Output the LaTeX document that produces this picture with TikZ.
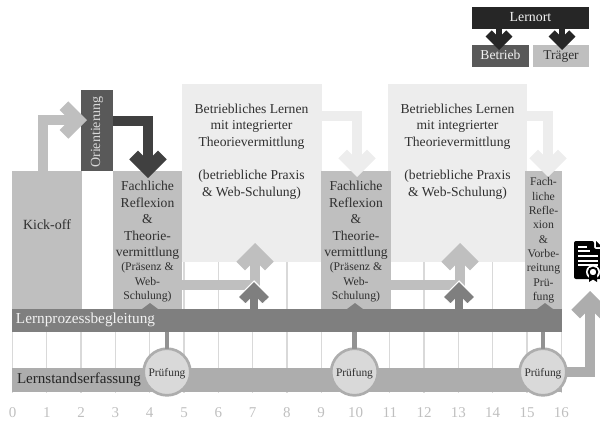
\documentclass[tikz,border=0pt]{standalone}
\usepackage{fontspec}
\setmainfont{Liberation Serif}
\newcommand{\fsz}[2]{\fontsize{#1pt}{#2pt}\selectfont}
\newcommand{\boxn}[6]{%
  \pgfmathsetmacro{\bw}{(#4-#2)*.75}\pgfmathsetmacro{\bh}{(#5-#3)*.75}%
  \pgfmathsetmacro{\bx}{(#2+#4)/2}\pgfmathsetmacro{\by}{(#3+#5)/2}%
  \node[rect,fill=#6,minimum width=\bw pt,minimum height=\bh pt] (#1) at (\bx,\by) {};}
\newcommand{\chev}[5][]{%
  \begin{scope}[shift={(#3)},rotate=#4,scale=#5]
  \path[fill=#2,#1] (0,0) -- (18.7,18.7) -- (10,27.3) -- (0,17.3) -- (-10,27.3) -- (-18.7,18.7) -- cycle;
  \end{scope}}
\definecolor{gA}{HTML}{BFBFBF}
\definecolor{gB}{HTML}{EDEDED}
\definecolor{gC}{HTML}{595959}
\definecolor{gD}{HTML}{404040}
\definecolor{gE}{HTML}{7F7F7F}
\definecolor{gF}{HTML}{ADADAD}
\definecolor{gG}{HTML}{262626}
\definecolor{gH}{HTML}{D9D9D9}
\definecolor{ink}{HTML}{303030}
\tikzset{
  rect/.style={rectangle,inner sep=0pt,outer sep=0pt},
  stem/.style={line width=7.5pt,line cap=butt,line join=miter},
  txt/.style={inner sep=0pt,outer sep=0pt,text=ink,align=center},
  maintxt/.style={txt,font=\fsz{10.2}{12.4}},
  smalltxt/.style={txt,font=\fsz{8.8}{10.8}},
  nartxt/.style={txt,font=\fsz{8.8}{10.75}},
  pruef/.style={circle,draw=gF,fill=gH,line width=2pt,minimum size=35pt,inner sep=0pt,outer sep=0pt,text=ink,font=\fsz{8.6}{10},text height=8pt,text depth=2pt},
  tick/.style={inner sep=0pt,text=gA,font=\fsz{11.25}{13}},
  gridl/.style={gH,line width=1pt},
  legend/.style={txt,text height=7.5pt,text depth=2.5pt},
}
\begin{document}
\begin{tikzpicture}[x=.75pt,y=-.75pt]
\useasboundingbox (0,0) rectangle (600,421);
\clip (0,0) rectangle (600,421);
% grid and scale
\foreach \k in {0,...,16}{
  \pgfmathsetmacro{\gx}{12.5+34.3*\k}
  \coordinate (gt\k) at (\gx,262);
  \coordinate (gb\k) at (\gx,393);
  \draw[gridl] (gt\k) -- (gb\k);
  \node[tick] (lab\k) at (\gx,413) {\k};
}
% blocks
\boxn{lern1}{182}{84}{321.5}{262}{gB}
\boxn{lern2}{388}{84}{527}{262}{gB}
\boxn{kick}{12}{171}{82}{309}{gA}
\boxn{fach1}{113}{171}{182}{309}{gA}
\boxn{fach2}{321}{171}{391}{309}{gA}
\boxn{fach3}{525}{171}{562}{309}{gA}
\boxn{orient}{81}{90}{113}{171}{gC}
% arrows at the top of the boxes
\coordinate (tkick) at (87,120);
\coordinate (ekick) at (70,120);
\coordinate (skick) at (43,171);
\draw[stem,gA] (skick) |- (ekick);
\chev{gA}{tkick}{-90}{1}
\coordinate (tfach1) at (148,178);
\coordinate (efach1) at (148,163);
\coordinate (sor) at (113,120.5);
\draw[stem,gD] (sor) -| (efach1);
\chev{gD}{tfach1}{180}{1}
\coordinate (tfach2) at (357,177);
\coordinate (efach2) at (357,162);
\coordinate (sl1) at (321.5,115.5);
\draw[stem,gB] (sl1) -| (efach2);
\chev{gB}{tfach2}{180}{1}
\coordinate (tfach3) at (548,177);
\coordinate (efach3) at (548,162);
\coordinate (sl2) at (527,115.5);
\draw[stem,gB] (sl2) -| (efach3);
\chev{gB}{tfach3}{180}{1}
% arrows from the boxes to the learning blocks
\coordinate (tl1) at (255,243);
\coordinate (el1) at (255,258);
\coordinate (sf1) at (182,285);
\draw[stem,gA] (sf1) -| (el1);
\chev{gA}{tl1}{0}{1}
\coordinate (tl2) at (460,243);
\coordinate (el2) at (460,258);
\coordinate (sf2) at (391,285);
\draw[stem,gA] (sf2) -| (el2);
\chev{gA}{tl2}{0}{1}
% bars
\boxn{bbar}{12}{309}{562}{332}{gE}
\boxn{sbar}{12}{368}{562}{392}{gF}
% support arrows rising from the bar
\coordinate (dl1) at (254,281);
\coordinate (ed1) at (254,293);
\coordinate (bd1) at (254,309);
\chev[draw=white,line width=.8pt]{gE}{dl1}{0}{.85}
\draw[line width=6pt,gE] (bd1) -- (ed1);
\coordinate (dl2) at (459,281);
\coordinate (ed2) at (459,293);
\coordinate (bd2) at (459,309);
\chev[draw=white,line width=.8pt]{gE}{dl2}{0}{.85}
\draw[line width=6pt,gE] (bd2) -- (ed2);
\foreach \nm/\nx in {n1/150,n2/355,n3/545}{
  \coordinate (\nm) at (\nx,303);
  \path[fill=gE] (\nm) -- ++(8,6) -- ++(-16,0) -- cycle;
}
% exam circles
\node[pruef] (p1) at (167,372) {Prüfung};
\node[pruef] (p2) at (354.5,372) {Prüfung};
\node[pruef] (p3) at (543,372) {Prüfung};
\draw[line width=3.2pt,gE!85!white] (p1.north) -- (p1.north |- bbar.south);
\draw[line width=3.2pt,gE!85!white] (p2.north) -- (p2.north |- bbar.south);
\draw[line width=3.2pt,gE!85!white] (p3.north) -- (p3.north |- bbar.south);
% exit arrow to the certificate
\coordinate (tcert) at (590,291);
\coordinate (ecert) at (590,306);
\draw[stem,gF] (p3.east) -| (ecert);
\chev{gF}{tcert}{0}{1}
% certificate icon
\path[fill=black,rounded corners=1.5pt] (574,241) -- (594,241) -- (594,249) -- (602,249) -- (602,279) -- (574,279) -- cycle;
\foreach \ly/\lx in {247/587,251/590,256/598,261/598,265/598}{
  \draw[white,line width=1pt] (578,\ly) -- (\lx,\ly);
}
\path[fill=black] (596,241) -- (600,245) -- (600,247) -- (596,247) -- cycle;
\path[fill=white] (593,272) circle [radius=7];
\path[fill=black] (589,276) -- (589,282) -- (593,279.5) -- (597,282) -- (597,276) -- cycle;
\node[circle,draw=black,fill=white,line width=1.4pt,minimum size=6.5pt,inner sep=0pt] (seal) at (593,272) {};
% texts
\node[txt,font=\fsz{10.5}{12}] (tkickoff) at (47,224.5) {Kick-off};
\node[txt,font=\fsz{10.5}{12},text=gH,rotate=90] (torient) at (97,132) {Orientierung};
\node[maintxt] (tb1) at (251.5,151.5) {Betriebliches Lernen\\mit integrierter\\Theorievermittlung\\[12.4pt](betriebliche Praxis\\\& Web-Schulung)};
\node[maintxt] (tb2) at (457.5,151.5) {Betriebliches Lernen\\mit integrierter\\Theorievermittlung\\[12.4pt](betriebliche Praxis\\\& Web-Schulung)};
\node[maintxt] (tf1a) at (147.5,220.5) {Fachliche\\Reflexion\\\&\\Theorie-\\vermittlung};
\node[smalltxt] (tf1b) at (147.5,282.5) {(Präsenz \&\\Web-\\Schulung)};
\node[maintxt] (tf2a) at (356,220.5) {Fachliche\\Reflexion\\\&\\Theorie-\\vermittlung};
\node[smalltxt] (tf2b) at (356,282.5) {(Präsenz \&\\Web-\\Schulung)};
\node[nartxt] (tf3) at (543.5,240.5) {Fach-\\liche\\Refle-\\xion\\\&\\Vorbe-\\reitung\\Prü-\\fung};
\node[txt,font=\fsz{11.45}{13},text=white!95!black,anchor=west] (tbar1) at (16,320) {Lernprozessbegleitung};
\node[txt,font=\fsz{11.3}{13},text=gG,anchor=west] (tbar2) at (17,380) {Lernstandserfassung};
% legend
\boxn{lernort}{472}{7}{589}{29}{gG}
\boxn{betrieb}{472}{45}{529}{67}{gC}
\boxn{traeger}{533}{45}{589}{67}{gA}
\coordinate (tbet) at (499,50);
\coordinate (ebet) at (499,40);
\coordinate (ttr) at (562,50);
\coordinate (etr) at (562,40);
\draw[line width=5pt,gG] (ebet |- lernort.south) -- (ebet);
\draw[line width=5pt,gG] (etr |- lernort.south) -- (etr);
\chev{gG}{tbet}{180}{.72}
\chev{gG}{ttr}{180}{.72}
\node[legend,font=\fsz{10.4}{12},text=white!95!black] (tlernort) at (lernort) {Lernort};
\node[legend,font=\fsz{10.2}{12},text=white!95!black] (tbetrieb) at (betrieb) {Betrieb};
\node[legend,font=\fsz{10.1}{12}] (ttraeger) at (traeger) {Träger};
\end{tikzpicture}
\end{document}
